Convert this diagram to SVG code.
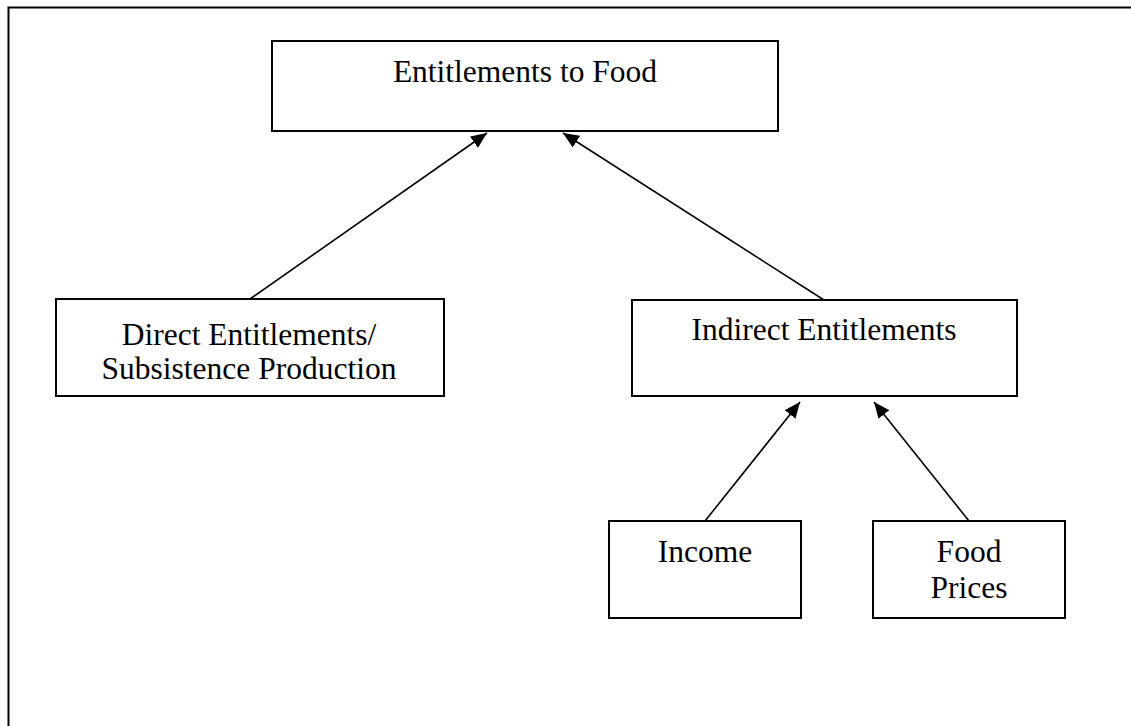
<svg xmlns="http://www.w3.org/2000/svg" width="1131" height="726" viewBox="0 0 1131 726">
<style>
.box{fill:#fff;stroke:#000;stroke-width:2}
.t{font-family:"Liberation Serif","Times New Roman",serif;font-size:31.5px;fill:#000;text-anchor:middle}
.c{stroke:#000;stroke-width:1.6;fill:none;marker-end:url(#ah)}
</style>
<defs>
<marker id="ah" markerUnits="userSpaceOnUse" markerWidth="16" markerHeight="14" refX="16" refY="7" orient="auto">
<path d="M0,0 L16,7 L0,14 Z" fill="#000"/>
</marker>
</defs>
<rect x="0" y="0" width="1131" height="726" fill="#fff"/>
<rect id="frame" x="8.5" y="7.5" width="1135" height="730" fill="none" stroke="#000" stroke-width="2"/>
<g id="connectors">
<line class="c" x1="250" y1="299" x2="487" y2="133"/>
<line class="c" x1="824" y1="300" x2="563" y2="133"/>
<line class="c" x1="705" y1="521" x2="800" y2="402"/>
<line class="c" x1="969" y1="521" x2="874" y2="402"/>
</g>
<g id="n_top">
<rect class="box" x="272" y="41" width="506" height="90"/>
<text class="t" x="525" y="82">Entitlements to Food</text>
</g>
<g id="n_direct">
<rect class="box" x="56" y="299" width="388" height="97"/>
<text class="t" x="249" y="345">Direct Entitlements/</text>
<text class="t" x="249" y="379">Subsistence Production</text>
</g>
<g id="n_indirect">
<rect class="box" x="632" y="300" width="385" height="96"/>
<text class="t" x="824" y="340">Indirect Entitlements</text>
</g>
<g id="n_income">
<rect class="box" x="609" y="521" width="192" height="97"/>
<text class="t" x="705" y="562">Income</text>
</g>
<g id="n_prices">
<rect class="box" x="873" y="521" width="192" height="97"/>
<text class="t" x="969" y="562">Food</text>
<text class="t" x="969" y="598">Prices</text>
</g>
</svg>
